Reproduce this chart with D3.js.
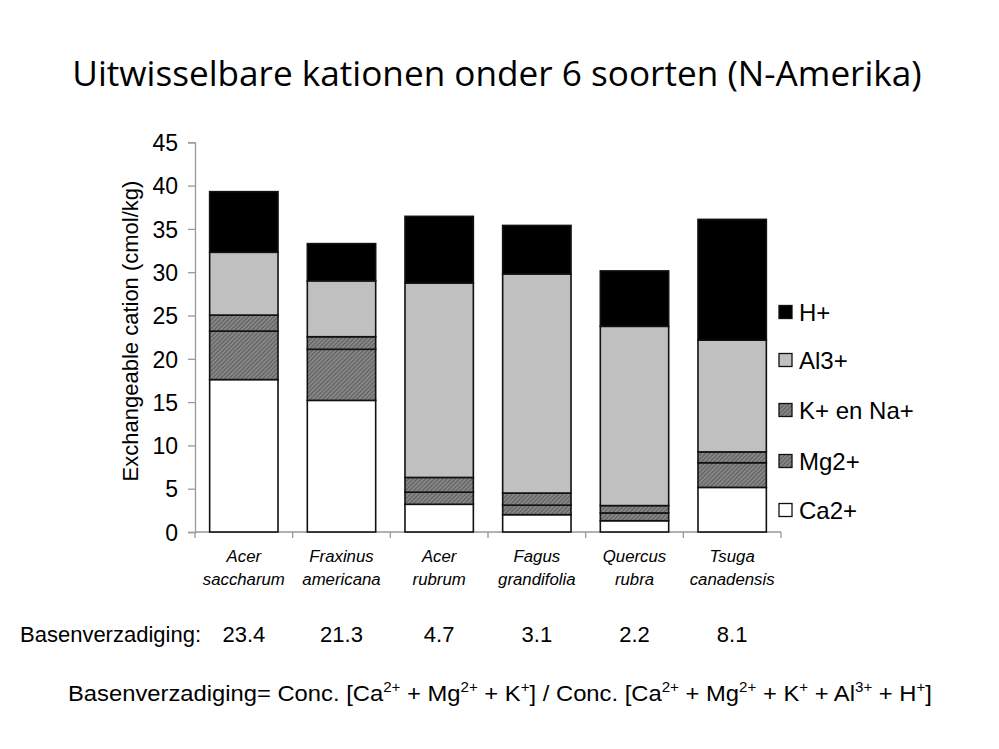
<!DOCTYPE html>
<html><head><meta charset="utf-8">
<script src="https://cdn.jsdelivr.net/npm/d3@7"></script>
<style>html,body{margin:0;padding:0;background:#fff;}svg{display:block;}</style>
</head><body>
<script>
const categories = [["Acer","saccharum"],["Fraxinus","americana"],["Acer","rubrum"],["Fagus","grandifolia"],["Quercus","rubra"],["Tsuga","canadensis"]];
const seriesNames = ["Ca2+","Mg2+","K+ en Na+","Al3+","H+"];
const ca = [17.6, 15.2, 3.2, 2.0, 1.3, 5.15];
const mg = [5.6, 5.9, 1.4, 1.1, 0.9, 2.85];
const kna = [1.85, 1.45, 1.7, 1.4, 0.85, 1.25];
const al = [7.25, 6.45, 22.45, 25.3, 20.7, 12.9];
const h = [7.0, 4.3, 7.7, 5.6, 6.4, 13.95];
const yTicks = [0,5,10,15,20,25,30,35,40,45];
const baseSat = ["23.4","21.3","4.7","3.1","2.2","8.1"];

const W=999,H=749;
const FONT="Liberation Sans, Arial, sans-serif";
const svg=d3.select("body").append("svg").attr("width",W).attr("height",H);
const defs=svg.append("defs");
const pat=defs.append("pattern").attr("id","hatch").attr("patternUnits","userSpaceOnUse")
  .attr("width",3).attr("height",3).attr("patternTransform","rotate(45)");
pat.append("rect").attr("width",3).attr("height",3).attr("fill","#8a8a8a");
pat.append("rect").attr("width",1.2).attr("height",3).attr("fill","#5e5e5e");

const fills={"Ca2+":"#ffffff","Mg2+":"url(#hatch)","K+ en Na+":"url(#hatch)","Al3+":"#c0c0c0","H+":"#000000"};

// title
const title=svg.append("text").attr("x",497).attr("y",86).attr("text-anchor","middle")
  .attr("font-family","Open Sans, sans-serif").attr("font-size",38).attr("fill","#000")
  .text("Uitwisselbare kationen onder 6 soorten (N-Amerika)");
const tl=title.node().getComputedTextLength();
title.attr("font-size",38*850/tl);

const x=d3.scaleBand().domain(d3.range(categories.length)).range([195,781]).paddingInner(0.3).paddingOuter(0.15);
const y=d3.scaleLinear().domain([0,45]).range([532,142.3]);

const rows=categories.map((c,i)=>({i,"Ca2+":ca[i],"Mg2+":mg[i],"K+ en Na+":kna[i],"Al3+":al[i],"H+":h[i]}));
const stack=d3.stack().keys(seriesNames)(rows);

// axes
const ax=svg.append("g").attr("transform","translate(195,0)").call(d3.axisLeft(y).tickValues(yTicks).tickSize(7).tickPadding(10));
ax.select(".domain").attr("stroke","#999").attr("stroke-width",1.3);
ax.selectAll(".tick line").attr("stroke","#999").attr("stroke-width",1.3);
ax.selectAll(".tick text").attr("font-family",FONT).attr("font-size",23).attr("fill","#000").attr("dy","0.36em");

const bx=svg.append("g");
bx.append("line").attr("x1",195).attr("x2",781).attr("y1",y(0)).attr("y2",y(0)).attr("stroke","#999").attr("stroke-width",1.3);
const step=x.step();
d3.range(categories.length+1).forEach(k=>{
  const xx=195+k*step;
  bx.append("line").attr("x1",xx).attr("x2",xx).attr("y1",y(0)).attr("y2",y(0)+6).attr("stroke","#999").attr("stroke-width",1.3);
});

// bars
stack.forEach(s=>{
  svg.append("g").selectAll("rect").data(s).join("rect")
    .attr("x",d=>x(d.data.i)).attr("width",x.bandwidth())
    .attr("y",d=>y(d[1])).attr("height",d=>y(d[0])-y(d[1]))
    .attr("fill",fills[s.key]).attr("stroke","#111").attr("stroke-width",1.6);
});

// x labels
const xl=svg.append("g").attr("font-family",FONT).attr("font-size",16.8).attr("font-style","italic").attr("text-anchor","middle");
categories.forEach((c,i)=>{
  const cx=x(i)+x.bandwidth()/2;
  xl.append("text").attr("x",cx).attr("y",562).text(c[0]);
  xl.append("text").attr("x",cx).attr("y",585).text(c[1]);
});

// y label
svg.append("text").attr("transform","translate(138,331) rotate(-90)").attr("text-anchor","middle")
  .attr("font-family",FONT).attr("font-size",22)
  .text("Exchangeable cation (cmol/kg)");

// legend
const legendOrder=["H+","Al3+","K+ en Na+","Mg2+","Ca2+"];
const ly=[312,360,410,461,510];
legendOrder.forEach((k,j)=>{
  svg.append("rect").attr("x",779).attr("y",ly[j]-6.5).attr("width",13).attr("height",13)
    .attr("fill",fills[k]).attr("stroke","#111").attr("stroke-width",1.3);
  svg.append("text").attr("x",799).attr("y",ly[j]+8.5).attr("font-family",FONT)
    .attr("font-size",24).text(k);
});

// base saturation row
svg.append("text").attr("x",20).attr("y",642).attr("font-family",FONT).attr("font-size",22).text("Basenverzadiging:");
baseSat.forEach((v,i)=>{
  svg.append("text").attr("x",x(i)+x.bandwidth()/2).attr("y",642).attr("text-anchor","middle")
    .attr("font-family",FONT).attr("font-size",22).text(v);
});

// formula
const parts=[["Basenverzadiging= Conc. [Ca",0],["2+",1],[" + Mg",0],["2+",1],[" + K",0],["+",1],["] / Conc. [Ca",0],["2+",1],[" + Mg",0],["2+",1],[" + K",0],["+",1],[" + Al",0],["3+",1],[" + H",0],["+",1],["]",0]];
const ft=svg.append("text").attr("x",68).attr("y",701).attr("font-family",FONT).attr("font-size",22);
parts.forEach((p,i)=>{
  const t=ft.append("tspan").text(p[0]);
  if(p[1]) t.attr("font-size",14).attr("dy",-9);
  else if(i>0 && parts[i-1][1]) t.attr("dy",9);
});
const fl=ft.node().getComputedTextLength();
ft.attr("textLength",864).attr("lengthAdjust","spacingAndGlyphs");
</script>
</body></html>
